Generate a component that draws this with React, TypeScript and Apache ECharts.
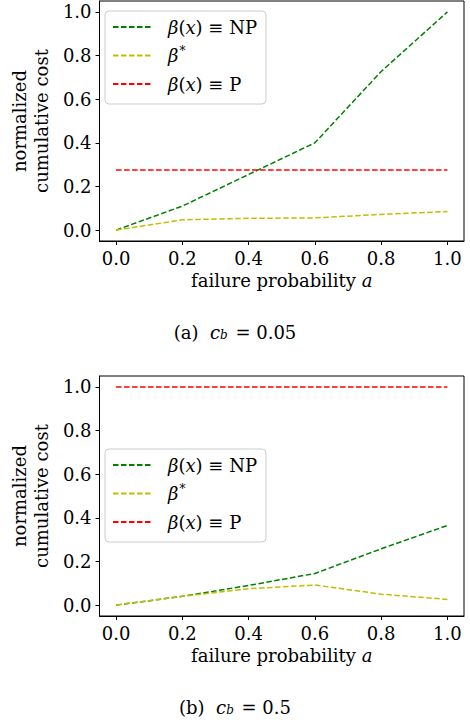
import React, { useEffect, useRef } from "react";
import * as echarts from "echarts";

const xValues = [0, 0.2, 0.4, 0.6, 0.8, 1.0];
const tickValues = [0, 0.2, 0.4, 0.6, 0.8, 1.0];

// panel (a) c_b = 0.05
const npA = [0, 0.11, 0.255, 0.4, 0.727, 1.0];
const starA = [0, 0.047, 0.054, 0.056, 0.072, 0.085];
const pA = [0.275, 0.275, 0.275, 0.275, 0.275, 0.275];

// panel (b) c_b = 0.5
const npB = [0, 0.04, 0.09, 0.145, 0.258, 0.365];
const starB = [0, 0.04, 0.075, 0.092, 0.05, 0.026];
const pB = [1, 1, 1, 1, 1, 1];

const names = ["β(x) ≡ NP", "β*", "β(x) ≡ P"];
const colors = ["#008000", "#bfbf00", "#ff0000"];

const FONT = "DejaVu Serif";
const FS = 18;

const pair = (ys: number[]) => xValues.map((x, i) => [x, ys[i]]);

export default function App() {
  const ref = useRef<HTMLDivElement>(null);
  useEffect(() => {
    const chart = echarts.init(ref.current!, null, { renderer: "svg" });
    const rich = {
      it: { fontFamily: FONT, fontStyle: "italic", fontWeight: "normal", fontSize: FS, color: "#000", lineHeight: 20 },
      rm: { fontFamily: FONT, fontWeight: "normal", fontSize: FS, color: "#000", lineHeight: 20 },
      sup: { fontFamily: FONT, fontWeight: "normal", fontSize: 12, color: "#000", padding: [0, 0, 10, 1], lineHeight: 20 },
      sub: { fontFamily: FONT, fontStyle: "italic", fontWeight: "normal", fontSize: 12, color: "#000", padding: [6, 2, 0, 0], lineHeight: 20 },
    };
    const legendFmt = (n: string) => {
      if (n === names[0]) return "{it|β}{rm|(}{it|x}{rm|) ≡ NP}";
      if (n === names[1]) return "{it|β}{sup|*}";
      return "{it|β}{rm|(}{it|x}{rm|) ≡ P}";
    };
    const grids = [
      { left: 94, top: 1, width: 370, height: 240 },
      { left: 94, top: 376, width: 370, height: 240 },
    ];
    const mkX = (gi: number) => ({
      type: "value",
      gridIndex: gi,
      min: -0.05,
      max: 1.05,
      splitLine: { show: false },
      axisLine: { show: true, onZero: false, lineStyle: { color: "#000", width: 1 } },
      axisTick: { show: true, length: 4, customValues: tickValues, lineStyle: { color: "#000" } },
      axisLabel: {
        customValues: tickValues,
        formatter: (v: number) => v.toFixed(1),
        fontFamily: FONT,
        fontSize: FS,
        color: "#000",
        margin: 8,
      },
      name: "{rm|failure probability }{it|a}",
      nameLocation: "middle",
      nameGap: 29,
      nameTextStyle: { rich },
    });
    const mkY = (gi: number) => ({
      type: "value",
      gridIndex: gi,
      min: -0.05,
      max: 1.05,
      splitLine: { show: false },
      axisLine: { show: true, onZero: false, lineStyle: { color: "#000", width: 1 } },
      axisTick: { show: true, length: 4, customValues: tickValues, lineStyle: { color: "#000" } },
      axisLabel: {
        customValues: tickValues,
        formatter: (v: number) => v.toFixed(1),
        fontFamily: FONT,
        fontSize: FS,
        color: "#000",
        margin: 8,
      },
      name: "normalized\ncumulative cost",
      nameLocation: "middle",
      nameGap: 43,
      nameTextStyle: { fontFamily: FONT, fontSize: FS, color: "#000", lineHeight: 22 },
    });
    const mkSeries = (gi: number, data: number[][]) =>
      data.map((ys, i) => ({
        type: "line",
        name: names[i],
        xAxisIndex: gi,
        yAxisIndex: gi,
        data: pair(ys),
        symbol: "none",
        lineStyle: { color: colors[i], width: 1.5, type: [5.5, 2.5] },
        itemStyle: { color: colors[i] },
      }));
    const mkLegend = (top: number) => ({
      data: names,
      orient: "vertical",
      left: 105,
      top,
      itemWidth: 40,
      itemHeight: 14,
      itemGap: 8.5,
      padding: [7, 9, 11, 7],
      backgroundColor: "rgba(255,255,255,0.8)",
      borderColor: "#cccccc",
      borderWidth: 1,
      borderRadius: 4,
      selectedMode: false,
      itemStyle: { color: "rgba(0,0,0,0)", borderColor: "rgba(0,0,0,0)", borderWidth: 0 },
      formatter: legendFmt,
      textStyle: { rich, padding: [0, 0, 0, 10] },
    });
    chart.setOption({
      animation: false,
      backgroundColor: "#fff",
      title: [
        {
          text: "{rm|(a)  }{it|c}{sub|b}{rm| = 0.05}",
          left: "center",
          top: 317,
          textStyle: { rich },
        },
        {
          text: "{rm|(b)  }{it|c}{sub|b}{rm| = 0.5}",
          left: "center",
          top: 692,
          textStyle: { rich },
        },
      ],
      grid: grids.map((g) => ({ ...g, show: true, borderColor: "#000", borderWidth: 1, backgroundColor: "#fff" })),
      xAxis: [mkX(0), mkX(1)],
      yAxis: [mkY(0), mkY(1)],
      legend: [mkLegend(11), mkLegend(449)],
      series: [...mkSeries(0, [npA, starA, pA]), ...mkSeries(1, [npB, starB, pB])],
    });
    return () => chart.dispose();
  }, []);
  return (
    <div
      ref={ref}
      style={{ position: "absolute", left: 0, top: 0, width: 470, height: 720 }}
    />
  );
}
